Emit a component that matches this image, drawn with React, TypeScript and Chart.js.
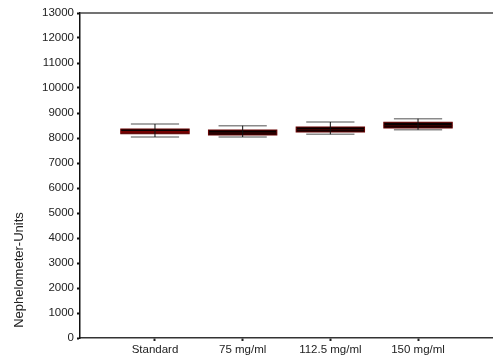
import React, { useEffect, useRef } from "react";
import { Chart, registerables } from "chart.js";
Chart.register(...registerables);

const categories = ["Standard", "75 mg/ml", "112.5 mg/ml", "150 mg/ml"];
const whiskerMin = [8040, 8040, 8150, 8330];
const q1 = [8170, 8120, 8240, 8400];
const median = [8240, 8200, 8330, 8490];
const q3 = [8360, 8320, 8440, 8630];
const whiskerMax = [8560, 8490, 8640, 8770];
const yTicks = [0, 1000, 2000, 3000, 4000, 5000, 6000, 7000, 8000, 9000, 10000, 11000, 12000, 13000];
const yTitle = "Nephelometer-Units";

const FONT = "Liberation Sans, Arial, sans-serif";

const boxPlugin = {
  id: "boxPlugin",
  afterDatasetsDraw(chart: any) {
    const { ctx, chartArea, scales } = chart;
    const xs = scales.x;
    const ys = scales.y;
    const unit = xs.getPixelForValue(2) - xs.getPixelForValue(1);
    const boxHalf = unit * 0.39;
    const capHalf = unit * 0.275;
    ctx.save();
    // top border
    ctx.strokeStyle = "#444";
    ctx.lineWidth = 1.5;
    ctx.beginPath();
    ctx.moveTo(chartArea.left, chartArea.top);
    ctx.lineTo(chart.width, chartArea.top);
    ctx.stroke();
    for (let i = 0; i < categories.length; i++) {
      const x = xs.getPixelForValue(i + 1);
      const yMin = ys.getPixelForValue(whiskerMin[i]);
      const yMax = ys.getPixelForValue(whiskerMax[i]);
      const yQ1 = ys.getPixelForValue(q1[i]);
      const yQ3 = ys.getPixelForValue(q3[i]);
      const yMed = ys.getPixelForValue(median[i]);
      // caps
      ctx.strokeStyle = "#8a8a8a";
      ctx.lineWidth = 1.5;
      ctx.beginPath();
      ctx.moveTo(x - capHalf, yMin);
      ctx.lineTo(x + capHalf, yMin);
      ctx.moveTo(x - capHalf, yMax);
      ctx.lineTo(x + capHalf, yMax);
      ctx.stroke();
      // box
      ctx.fillStyle = "#080000";
      ctx.fillRect(x - boxHalf, yQ3, boxHalf * 2, yQ1 - yQ3);
      ctx.strokeStyle = "#6a0000";
      ctx.lineWidth = 1;
      ctx.strokeRect(x - boxHalf, yQ3, boxHalf * 2, yQ1 - yQ3);
      // median
      ctx.strokeStyle = i === 0 ? "#e00000" : "#4a0000";
      ctx.lineWidth = 1.2;
      ctx.beginPath();
      ctx.moveTo(x - boxHalf, yMed);
      ctx.lineTo(x + boxHalf, yMed);
      ctx.stroke();
      // whisker line
      ctx.strokeStyle = "#111";
      ctx.lineWidth = 1;
      ctx.beginPath();
      ctx.moveTo(x, yMax);
      ctx.lineTo(x, yMin);
      ctx.stroke();
    }
    // y title
    ctx.fillStyle = "#222";
    ctx.font = `13px ${FONT}`;
    ctx.textAlign = "center";
    ctx.textBaseline = "alphabetic";
    ctx.translate(22.5, 270);
    ctx.rotate(-Math.PI / 2);
    ctx.fillText(yTitle, 0, 0);
    ctx.restore();
  },
};

export default function App() {
  const ref = useRef<HTMLCanvasElement>(null);
  useEffect(() => {
    document.body.style.margin = "0";
    const chart = new Chart(ref.current!, {
      type: "scatter",
      data: { datasets: [{ data: [], showLine: false }] },
      options: {
        animation: false,
        responsive: false,
        devicePixelRatio: 1,
        layout: { padding: { top: 13, right: 0, left: 0, bottom: 0 } },
        plugins: { legend: { display: false }, tooltip: { enabled: false } },
        scales: {
          x: {
            type: "linear",
            min: 0.145,
            max: 4.855,
            afterBuildTicks: (s: any) => {
              s.ticks = categories.map((_, i) => ({ value: i + 1 }));
            },
            afterFit: (s: any) => {
              s.height = 23;
            },
            ticks: {
              callback: (v: any) => categories[Math.round(Number(v)) - 1] ?? "",
              font: { family: FONT, size: 11.5 },
              color: "#222",
              padding: 2,
              maxRotation: 0,
              autoSkip: false,
            },
            grid: { drawOnChartArea: false, tickLength: 3, tickColor: "#222", tickWidth: 2 },
            border: { color: "#333", width: 1.5 },
          },
          y: {
            min: 0,
            max: 13000,
            afterBuildTicks: (s: any) => {
              s.ticks = yTicks.map((v) => ({ value: v }));
            },
            afterFit: (s: any) => {
              s.width = 80;
            },
            ticks: {
              font: { family: FONT, size: 11.5 },
              color: "#222",
              padding: 3,
              callback: (v: any) => String(v),
            },
            grid: { drawOnChartArea: false, tickLength: 3, tickColor: "#111", tickWidth: 2 },
            border: { color: "#111", width: 1.5 },
          },
        },
      },
      plugins: [boxPlugin],
    } as any);
    return () => chart.destroy();
  }, []);
  return (
    <div style={{ position: "fixed", left: 0, top: 0, width: 493, height: 361, background: "#fff" }}>
      <canvas ref={ref} width={493} height={361} style={{ display: "block" }} />
    </div>
  );
}
